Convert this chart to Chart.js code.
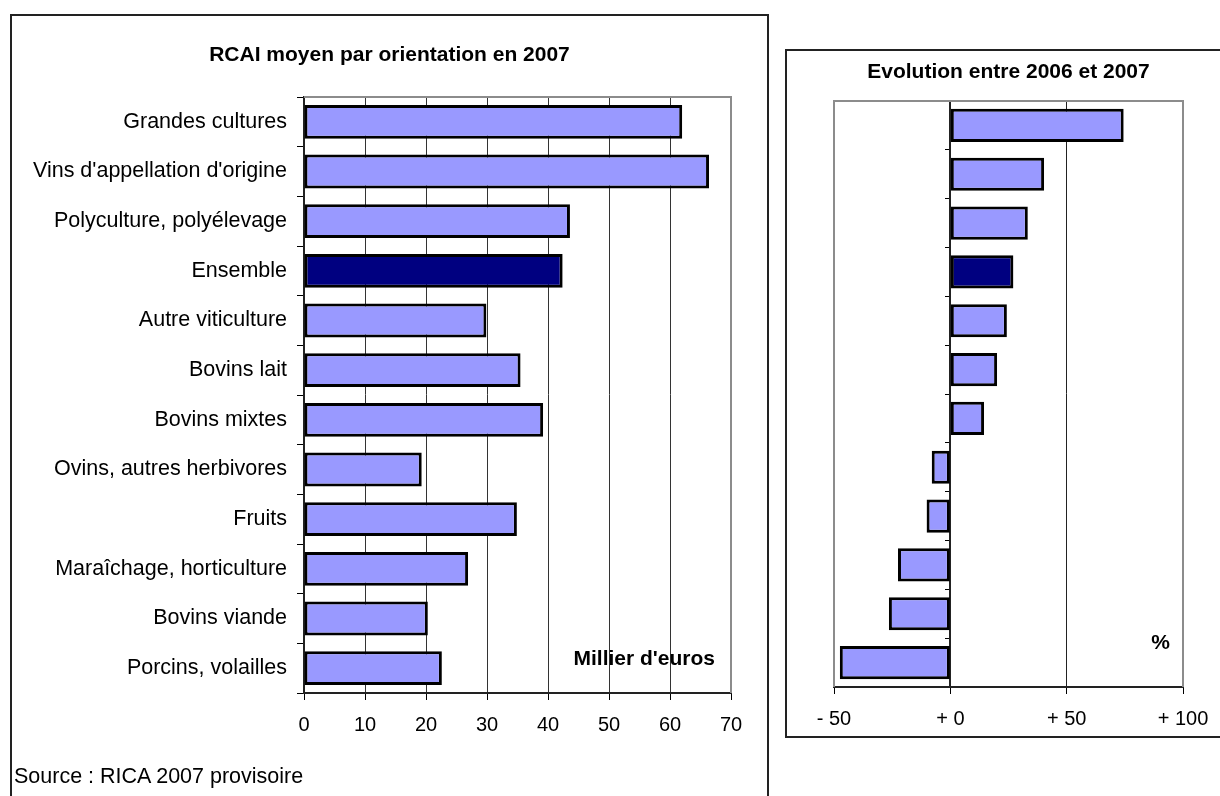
<!DOCTYPE html>
<html lang="fr">
<head>
<meta charset="utf-8">
<title>RCAI moyen par orientation en 2007</title>
<script src="https://cdn.jsdelivr.net/npm/chart.js@4.4.1/dist/chart.umd.min.js"></script>
<style>
    html, body { margin: 0; padding: 0; background: #fff; width: 1220px; height: 796px; overflow: hidden; }
    .box { position: absolute; box-sizing: border-box; border: 2px solid #222; background: #fff; }
    #leftBox { left: 10px; top: 14px; width: 759px; height: 800px; }
    #rightBox { left: 785px; top: 49px; width: 470px; height: 689px; }
    canvas { position: absolute; }
    #rcaiChart { left: 12px; top: 16px; }
    #evolChart { left: 787px; top: 51px; }
    #source { position: absolute; left: 14px; top: 764px; font: 21.5px 'Liberation Sans', Arial, sans-serif; line-height: 24px; color: #000; }
</style>
</head>
<body>
<div class="box" id="leftBox"></div>
<div class="box" id="rightBox"></div>
<canvas id="rcaiChart" width="755" height="780"></canvas>
<canvas id="evolChart" width="443" height="685"></canvas>
<div id="source">Source : RICA 2007 provisoire</div>

<script>
// Orientations (same order in both charts)
const orientations = [
    'Grandes cultures',
    "Vins d'appellation d'origine",
    'Polyculture, polyélevage',
    'Ensemble',
    'Autre viticulture',
    'Bovins lait',
    'Bovins mixtes',
    'Ovins, autres herbivores',
    'Fruits',
    'Maraîchage, horticulture',
    'Bovins viande',
    'Porcins, volailles'
];

// RCAI moyen 2007, milliers d'euros
const rcai2007 = [62, 66.4, 43.6, 42.4, 29.9, 35.5, 39.2, 19.3, 34.9, 26.9, 20.3, 22.6];

// Evolution 2006-2007, %
const evolution = [74.5, 40.3, 33.3, 27.1, 24.3, 20.1, 14.5, -8, -10.2, -22.5, -26.4, -47.5];

const rcaiTicks = [0, 10, 20, 30, 40, 50, 60, 70];
const evolTicks = [-50, 0, 50, 100];

const FONT = "'Liberation Sans', Arial, sans-serif";
const LAVENDER = '#9999ff';
const NAVY = '#000080';

Chart.defaults.font.family = FONT;
Chart.defaults.color = '#000';
Chart.defaults.animation = false;

const barColors = orientations.map(o => o === 'Ensemble' ? NAVY : LAVENDER);

// Title centred on the whole canvas (layout padding is not symmetric)
const boxTitle = {
    id: 'boxTitle',
    afterDraw(chart, args, opts) {
        const ctx = chart.ctx;
        ctx.save();
        ctx.font = 'bold 21px ' + FONT;
        ctx.fillStyle = '#000';
        ctx.textAlign = 'center';
        ctx.textBaseline = 'middle';
        ctx.fillText(opts.text, chart.width / 2, opts.y);
        ctx.restore();
    }
};

// Grey frame around the plot area (the axes cover the other sides)
const plotFrame = {
    id: 'plotFrame',
    afterDatasetsDraw(chart, args, opts) {
        const { ctx, chartArea: a } = chart;
        ctx.save();
        ctx.strokeStyle = '#8c8c8c';
        ctx.lineWidth = 2;
        ctx.beginPath();
        if (opts.left) {
            ctx.moveTo(a.left, a.bottom);
            ctx.lineTo(a.left, a.top);
        } else {
            ctx.moveTo(a.left, a.top);
        }
        ctx.lineTo(a.right, a.top);
        ctx.lineTo(a.right, a.bottom);
        ctx.stroke();
        ctx.restore();
    }
};

// Unit written inside the plot, bottom right
const unitLabel = {
    id: 'unitLabel',
    afterDraw(chart, args, opts) {
        const { ctx, chartArea: a } = chart;
        ctx.save();
        ctx.font = 'bold 21px ' + FONT;
        ctx.fillStyle = '#000';
        ctx.textAlign = 'right';
        ctx.textBaseline = 'middle';
        ctx.fillText(opts.text, a.right - opts.dx, a.bottom - opts.dy);
        ctx.restore();
    }
};

function barDataset(values) {
    return {
        data: values,
        backgroundColor: barColors,
        borderColor: '#000',
        borderWidth: 3,
        borderSkipped: false,
        barPercentage: 0.68,
        categoryPercentage: 1
    };
}

// ==================== RCAI MOYEN ====================
new Chart(document.getElementById('rcaiChart'), {
    type: 'bar',
    data: { labels: orientations, datasets: [barDataset(rcai2007)] },
    plugins: [boxTitle, plotFrame, unitLabel],
    options: {
        indexAxis: 'y',
        responsive: false,
        layout: { padding: { left: 0, right: 36, top: 81, bottom: 63 } },
        plugins: {
            legend: { display: false },
            tooltip: { enabled: false },
            boxTitle: { text: 'RCAI moyen par orientation en 2007', y: 39 },
            plotFrame: { left: false },
            unitLabel: { text: "Millier d'euros", dx: 16, dy: 34 }
        },
        scales: {
            x: {
                min: 0,
                max: 70,
                afterFit(s) { s.height = 40; },
                afterBuildTicks(s) { s.ticks = rcaiTicks.map(v => ({ value: v })); },
                ticks: { font: { size: 20 }, padding: 13, color: '#000' },
                grid: {
                    color: c => (c.tick && c.tick.value > 0 && c.tick.value < 70) ? '#333' : 'rgba(0,0,0,0)',
                    lineWidth: 1,
                    tickColor: '#000',
                    tickLength: 7
                },
                border: { color: '#222', width: 2 }
            },
            y: {
                afterFit(s) { s.width = 292; },
                ticks: { font: { size: 21.5 }, padding: 10, color: '#000' },
                grid: {
                    drawOnChartArea: false,
                    tickColor: '#000',
                    tickLength: 7,
                    offset: true
                },
                border: { color: '#222', width: 2 }
            }
        }
    }
});

// ==================== EVOLUTION 2006-2007 ====================
new Chart(document.getElementById('evolChart'), {
    type: 'bar',
    data: { labels: orientations, datasets: [barDataset(evolution)] },
    plugins: [boxTitle, plotFrame, unitLabel],
    options: {
        indexAxis: 'y',
        responsive: false,
        layout: { padding: { left: 47, right: 47, top: 50, bottom: 9 } },
        plugins: {
            legend: { display: false },
            tooltip: { enabled: false },
            boxTitle: { text: 'Evolution entre 2006 et 2007', y: 21 },
            plotFrame: { left: true },
            unitLabel: { text: '%', dx: 13, dy: 44 }
        },
        scales: {
            x: {
                min: -50,
                max: 100,
                afterFit(s) { s.height = 40; },
                afterBuildTicks(s) { s.ticks = evolTicks.map(v => ({ value: v })); },
                ticks: {
                    font: { size: 20 },
                    padding: 13,
                    color: '#000',
                    callback: v => (v < 0 ? '- ' + Math.abs(v) : '+ ' + v)
                },
                grid: {
                    color: c => (c.tick && c.tick.value === 50) ? '#222' : 'rgba(0,0,0,0)',
                    lineWidth: 1,
                    tickColor: '#000',
                    tickLength: 7
                },
                border: { color: '#222', width: 2 }
            },
            y: {
                position: { x: 0 },
                ticks: { display: false },
                grid: {
                    drawOnChartArea: false,
                    tickColor: '#000',
                    tickLength: 4,
                    offset: true
                },
                border: { color: '#222', width: 2 }
            }
        }
    }
});
</script>
</body>
</html>
